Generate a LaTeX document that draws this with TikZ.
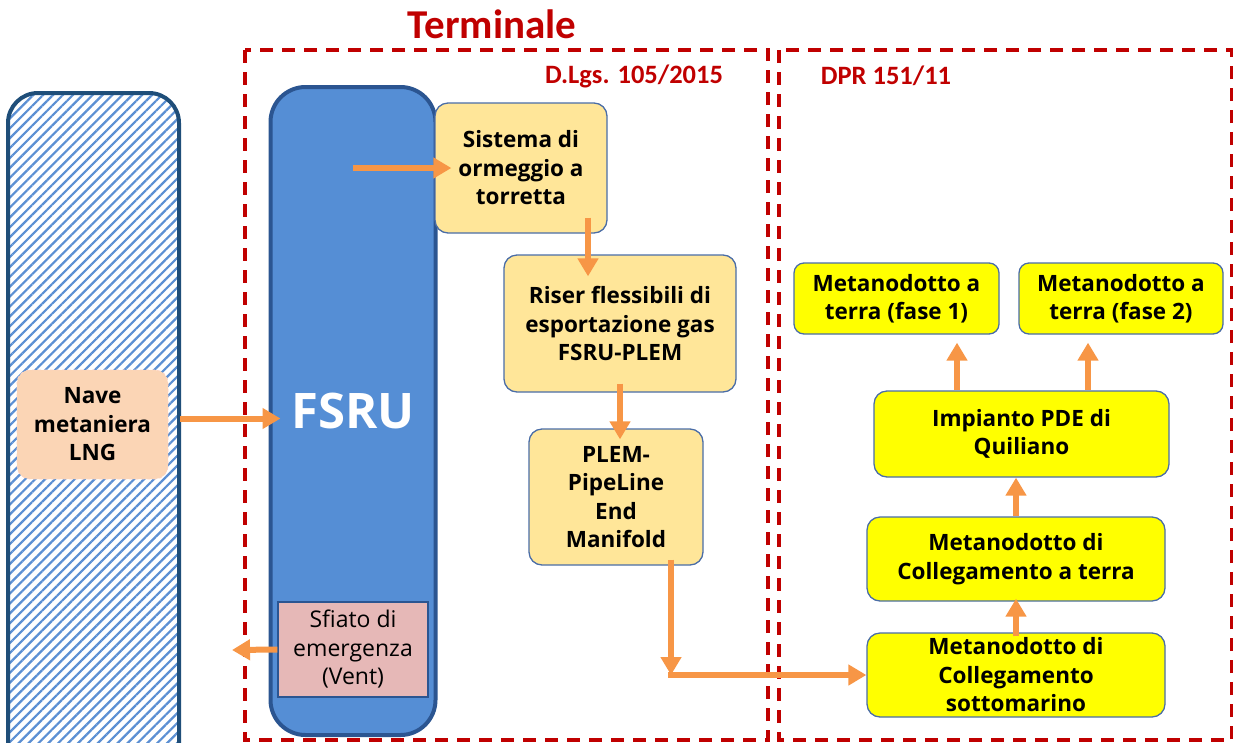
\documentclass[tikz,border=0pt]{standalone}
\usepackage{fontspec}
\setmainfont{Open Sans}
\newfontfamily\carl{Carlito}
\usetikzlibrary{arrows.meta,patterns.meta,calc}
\definecolor{zred}{HTML}{C00000}
\definecolor{shipb}{HTML}{1F4E79}
\definecolor{hatch}{HTML}{5B8FD3}
\definecolor{fsruf}{HTML}{558ED5}
\definecolor{fsrub}{HTML}{2B5591}
\definecolor{peach}{HTML}{FBD5B5}
\definecolor{lyel}{HTML}{FFE699}
\definecolor{yel}{HTML}{FFFF00}
\definecolor{bordc}{HTML}{4A6DA7}
\definecolor{ventf}{HTML}{E6B8B7}
\definecolor{orng}{HTML}{F79646}
\tikzset{
  txt/.style={font=\fontsize{22.5}{28.5}\selectfont\bfseries},
  box/.style={rounded corners=13pt, draw=bordc, line width=1.3pt, align=center, inner sep=0pt, txt},
  lybox/.style={box, fill=lyel},
  ybox/.style={box, fill=yel},
  arr/.style={draw=orng, line width=6pt, -{Triangle[length=18pt,width=20pt]}},
  zone/.style={draw=zred, line width=3.5pt, dash pattern=on 13pt off 9pt},
  lawlbl/.style={text=zred, font=\carl\fontsize{26.5}{30}\selectfont\bfseries, inner sep=0pt, anchor=base},
}
\begin{document}
\begin{tikzpicture}[x=1pt,y=-1pt]
\useasboundingbox (0,0) rectangle (1233,742);
\clip (0,0) rectangle (1233,742);
% zones
\draw[zone] (245,50) rectangle (768,740);
\draw[zone] (779,50) rectangle (1232,740);
\node[lawlbl, font=\carl\fontsize{41}{44}\selectfont\bfseries] (title) at (492,38) {Terminale};
\node[lawlbl] (lawa) at (634,83) {D.Lgs. 105/2015};
\node[lawlbl] (lawb) at (886,84) {DPR 151/11};
% ship
\node[draw=shipb, line width=4pt, rounded corners=30pt, pattern={Lines[angle=45,distance=7pt,line width=2.2pt]}, pattern color=hatch, minimum width=171pt, minimum height=700pt, inner sep=0pt] (ship) at (93.5,443) {};
\node[box, fill=peach, draw=peach!85!red!60, dashed, line width=0.8pt, minimum width=151pt, minimum height=109pt] (nave) at (92.5,424.5) {Nave\\metaniera\\LNG};
% FSRU
\node[draw=fsrub, fill=fsruf, line width=4pt, rounded corners=35pt, minimum width=165pt, minimum height=648pt, inner sep=0pt, text=white, font=\fontsize{49}{52}\selectfont\bfseries] (fsru) at (353,411) {FSRU};
\node[draw=fsrub, fill=ventf, line width=1.3pt, minimum width=150pt, minimum height=95pt, inner sep=0pt, align=center, font=\fontsize{23}{28.5}\selectfont] (vent) at (353,649.5) {Sfiato di\\emergenza\\(Vent)};
% terminal chain
\node[lybox, minimum width=172pt, minimum height=130pt] (sis) at (521,168) {Sistema di\\ormeggio a\\torretta};
\node[lybox, minimum width=232pt, minimum height=137pt] (riser) at (620,323.5) {Riser flessibili di\\esportazione gas\\FSRU-PLEM};
\node[lybox, minimum width=174pt, minimum height=136pt] (plem) at (616,497) {PLEM-\\PipeLine\\End\\Manifold};
% DPR chain
\node[ybox, rounded corners=10pt, minimum width=205pt, minimum height=71pt] (fase1) at (896.5,298.5) {Metanodotto a\\terra (fase 1)};
\node[ybox, rounded corners=10pt, minimum width=204pt, minimum height=71pt] (fase2) at (1121,298.5) {Metanodotto a\\terra (fase 2)};
\node[ybox, minimum width=295pt, minimum height=86pt] (pde) at (1021.5,434) {Impianto PDE di\\Quiliano};
\node[ybox, minimum width=298pt, minimum height=84pt] (colleg) at (1016,559) {Metanodotto di\\Collegamento a terra};
\node[ybox, minimum width=298pt, minimum height=84pt] (sotto) at (1016,675) {Metanodotto di\\Collegamento\\sottomarino};
% connectors
\path ([yshift=6pt]nave.east) coordinate (nv);
\draw[arr, shorten >=-12pt] (ship.east |- nv) -- (fsru.west |- nv);
\draw[arr, shorten >=-17pt] (fsru.center |- sis.west) -- (sis.west);
\draw[arr, shorten <=-16pt, shorten >=-22pt] ([xshift=67pt]sis.south) -- ([xshift=67pt]sis.south |- riser.north);
\draw[arr, shorten <=-9pt, shorten >=-11pt] (riser.south) -- (riser.south |- plem.north);
\coordinate (corner) at ([xshift=55pt]plem.south |- sotto.west);
\draw[arr, shorten <=-6pt] ([xshift=55pt]plem.south) -- (corner);
\draw[arr, shorten <=-3pt] (corner) -- (sotto.west);
\draw[arr, shorten <=-4pt, shorten >=-3pt] (sotto.north) -- (colleg.south);
\draw[arr] (colleg.north) -- (colleg.north |- pde.south);
\draw[arr, shorten >=8pt] ([xshift=-64.5pt]pde.north) -- ([xshift=-64.5pt]pde.north |- fase1.south);
\draw[arr, shorten >=8pt] ([xshift=66.5pt]pde.north) -- ([xshift=66.5pt]pde.north |- fase2.south);
\coordinate (ventout) at (232,650);
\draw[arr] (vent.west) -- (ventout);
\end{tikzpicture}
\end{document}
